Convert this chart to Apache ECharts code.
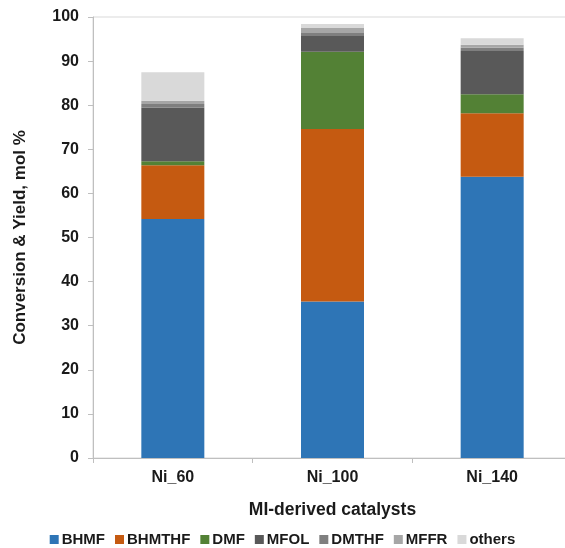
<!DOCTYPE html>
<html><head><meta charset="utf-8">
<script src="https://cdn.jsdelivr.net/npm/echarts@6/dist/echarts.min.js"></script>
<style>html,body{margin:0;padding:0;background:#fff}#c{width:565px;height:548px}</style>
</head><body><div id="c"></div>
<script>
const categories = ['Ni_60', 'Ni_100', 'Ni_140'];
const BHMF   = [54.2, 35.5, 63.8];
const BHMTHF = [12.2, 39.1, 14.4];
const DMF    = [0.9, 17.5, 4.3];
const MFOL   = [12.1, 3.6, 9.8];
const DMTHF  = [0.9, 0.7, 0.7];
const MFFR   = [0.7, 1.1, 0.7];
const others = [6.5, 0.9, 1.5];
const yTicks = [0, 10, 20, 30, 40, 50, 60, 70, 80, 90, 100];

const seriesDefs = [
  ['BHMF', BHMF, '#2E75B6'],
  ['BHMTHF', BHMTHF, '#C55A11'],
  ['DMF', DMF, '#538135'],
  ['MFOL', MFOL, '#595959'],
  ['DMTHF', DMTHF, '#7F7F7F'],
  ['MFFR', MFFR, '#A6A6A6'],
  ['others', others, '#D9D9D9']
];
const font = 'Liberation Sans, Arial, sans-serif';
const chart = echarts.init(document.getElementById('c'), null, {renderer: 'canvas'});
chart.setOption({
  animation: false,
  textStyle: {fontFamily: font},
  grid: {left: 93, top: 17, width: 479, height: 441, outerBoundsMode: 'none', containLabel: false,
         show: true, borderColor: '#d9d9d9', borderWidth: 1, backgroundColor: 'transparent'},
  legend: {
    top: 527, left: 'center', itemWidth: 9, itemHeight: 9, itemGap: 10,
    icon: 'rect',
    textStyle: {fontFamily: font, fontWeight: 'bold', fontSize: 15, color: '#1a1a1a', padding: [0, 0, 0, -2]},
    data: seriesDefs.map(d => d[0])
  },
  xAxis: {
    type: 'category', data: categories,
    axisLine: {lineStyle: {color: '#bfbfbf', width: 1}},
    axisTick: {show: true, length: 5, lineStyle: {color: '#bfbfbf'}},
    axisLabel: {fontFamily: font, fontWeight: 'bold', fontSize: 16, color: '#1a1a1a', margin: 12},
    name: 'MI-derived catalysts', nameLocation: 'middle', nameGap: 43,
    nameTextStyle: {fontFamily: font, fontWeight: 'bold', fontSize: 17.5, color: '#1a1a1a'}
  },
  yAxis: {
    type: 'value', min: yTicks[0], max: yTicks[yTicks.length - 1], interval: 10,
    axisLine: {show: true, lineStyle: {color: '#bfbfbf', width: 1}},
    axisTick: {show: true, length: 5, lineStyle: {color: '#bfbfbf'}},
    splitLine: {show: false},
    axisLabel: {fontFamily: font, fontWeight: 'bold', fontSize: 16, color: '#1a1a1a', margin: 14},
    name: 'Conversion & Yield, mol %', nameLocation: 'middle', nameGap: 64,
    nameTextStyle: {fontFamily: font, fontWeight: 'bold', fontSize: 17, color: '#1a1a1a'}
  },
  series: seriesDefs.map(([name, data, color]) => ({
    name, type: 'bar', stack: 'total', data, barWidth: 63,
    itemStyle: {color}
  }))
});
</script></body></html>
